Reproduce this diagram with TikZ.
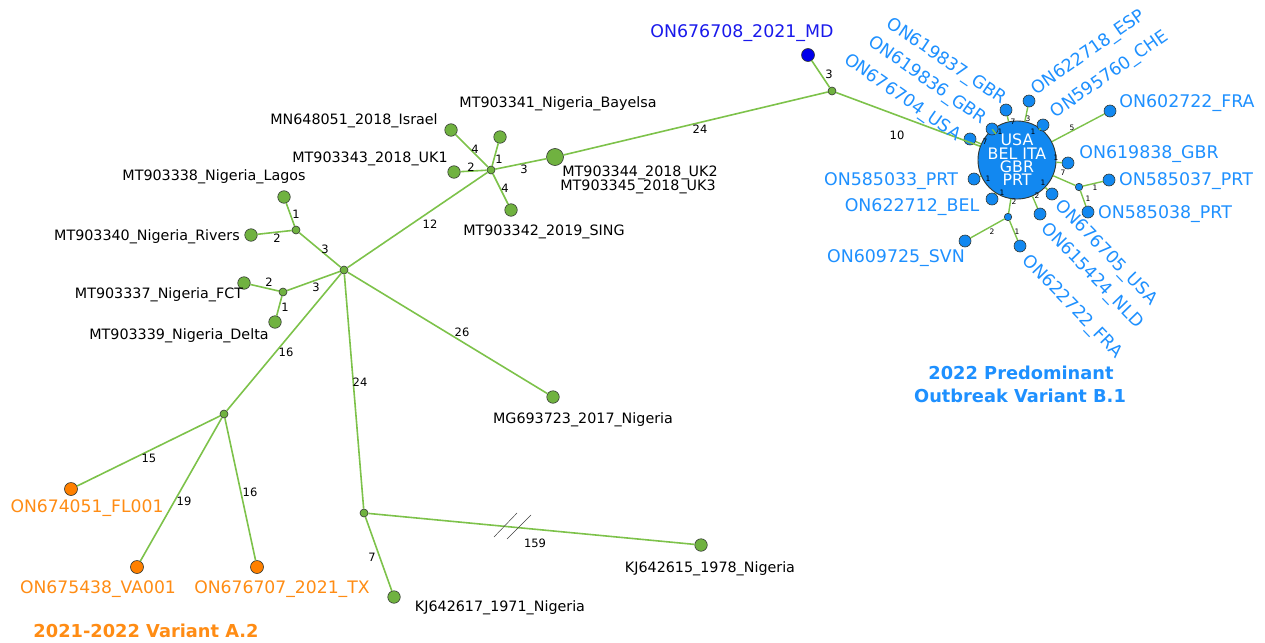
\documentclass[tikz,border=0pt]{standalone}
\usepackage{fontspec}
\setmainfont{DejaVu Sans}
\definecolor{gfill}{RGB}{112,178,64}
\definecolor{gedge}{RGB}{125,194,74}
\definecolor{outl}{RGB}{50,55,50}
\definecolor{bfill}{RGB}{18,136,240}
\definecolor{btext}{RGB}{30,144,255}
\definecolor{ofill}{RGB}{255,128,0}
\definecolor{otext}{RGB}{255,140,20}
\definecolor{mdfill}{RGB}{0,0,235}
\definecolor{mdtext}{RGB}{25,25,235}
\tikzset{
  ndot/.style={circle, draw=outl, line width=0.6pt, inner sep=0pt},
  gleaf/.style={ndot, fill=gfill, minimum size=12.5pt},
  gjn/.style={ndot, fill=gfill, minimum size=8pt},
  bleaf/.style={ndot, fill=bfill, minimum size=12pt},
  bjn/.style={ndot, fill=bfill, minimum size=7.5pt},
  oleaf/.style={ndot, fill=ofill, minimum size=13pt},
  mdleaf/.style={ndot, fill=mdfill, minimum size=13pt},
  hubnode/.style={ndot, fill=bfill, line width=0.9pt, minimum size=61pt, text=white,
    align=center, font=\fontsize{15.8}{13.4}\selectfont},
  edgeline/.style={draw=gedge, line width=1.6pt},
  seqname/.style={inner sep=0pt, font=\fontsize{14.3}{16}\selectfont, text=black},
  bname/.style={inner sep=0pt, font=\fontsize{17.4}{20}\selectfont, text=btext},
  oname/.style={inner sep=0pt, font=\fontsize{17.2}{20}\selectfont, text=otext},
  elab/.style={inner sep=0pt, font=\fontsize{11.5}{12}\selectfont, text=black},
  slab/.style={inner sep=0pt, font=\fontsize{7.5}{8}\selectfont, text=black},
  headline/.style={inner sep=0pt, font=\fontsize{17.8}{22}\bfseries\selectfont},
}
\begin{document}
\begin{tikzpicture}[x=1pt,y=-1pt]
\useasboundingbox (0,0) rectangle (1265,642);

% ---------- ancestral network nodes ----------
\node[gjn] (H) at (344,270) {};
\node[gjn] (J1) at (296,230) {};
\node[gleaf] (lagos) at (284,197) {};
\node[gleaf] (rivers) at (251,235) {};
\node[gjn] (J2) at (283,292) {};
\node[gleaf] (fct) at (244,283) {};
\node[gleaf] (delta) at (275,322) {};
\node[gjn] (J3) at (491,170) {};
\node[gleaf] (israel) at (451,130) {};
\node[gleaf] (bayelsa) at (500,137) {};
\node[gleaf] (uk1) at (454,172) {};
\node[gleaf, minimum size=17pt] (uk2) at (555,157) {};
\node[gleaf] (sing) at (511,210) {};
\node[gjn] (J4) at (832,91) {};
\node[mdleaf] (md) at (808,55) {};
\node[gleaf] (mg) at (553,397) {};
\node[gjn] (J5) at (364,513) {};
\node[gleaf] (kj15) at (701,545) {};
\node[gleaf] (kj17) at (394,597) {};
\node[gjn] (J6) at (224,414) {};
\node[oleaf] (fl) at (71,489) {};
\node[oleaf] (va) at (137,567) {};
\node[oleaf] (tx) at (257,567) {};

% ---------- B.1 cluster nodes ----------
\node[hubnode] (B) at (1017,160) {USA\\BEL ITA\\GBR\\PRT};
\node[bleaf] (s837) at (1006,110) {};
\node[bleaf] (s836) at (992,129) {};
\node[bleaf] (s704) at (970,139) {};
\node[bleaf] (s718) at (1029,101) {};
\node[bleaf] (s760) at (1043,125) {};
\node[bleaf] (s722) at (1110,111) {};
\node[bleaf] (s838) at (1068,163) {};
\node[bleaf] (s033) at (974,179) {};
\node[bleaf] (s712) at (992,199) {};
\node[bjn] (J7) at (1079,187) {};
\node[bleaf] (s037) at (1109,180) {};
\node[bleaf] (s038) at (1088,212) {};
\node[bleaf] (s705) at (1052,194) {};
\node[bleaf] (s424) at (1040,214) {};
\node[bjn] (J8) at (1008,217) {};
\node[bleaf] (s725) at (965,241) {};
\node[bleaf] (s722f) at (1020,246) {};

% ---------- connectors ----------
\path[edgeline] (J1) -- (lagos) (J1) -- (rivers) (J1) -- (H)
  (J2) -- (fct) (J2) -- (delta) (J2) -- (H)
  (H) -- (J3) (J3) -- (israel) (J3) -- (bayelsa) (J3) -- (uk1)
  (J3) -- (uk2) (J3) -- (sing) (uk2) -- (J4) (J4) -- (md) (J4) -- (B)
  (H) -- (mg) (H) -- (J5) (J5) -- (kj15) (J5) -- (kj17)
  (H) -- (J6) (J6) -- (fl) (J6) -- (va) (J6) -- (tx);
\path[edgeline, line width=1.4pt] (B) -- (s837) (B) -- (s836) (B) -- (s704) (B) -- (s718)
  (B) -- (s760) (B) -- (s722) (B) -- (s838) (B) -- (s033) (B) -- (s712)
  (B) -- (J7) (J7) -- (s037) (J7) -- (s038) (B) -- (s705) (B) -- (s424)
  (B) -- (J8) (J8) -- (s725) (J8) -- (s722f);

% break marks on the long branch
\draw[black!75, line width=0.5pt] (494,537) -- (517,513) (507,539) -- (531,515);

% ---------- branch lengths ----------
\node[elab] (l1) at (296,214) {1};
\node[elab] (l2) at (277,238) {2};
\node[elab] (l3) at (325,249) {3};
\node[elab] (l4) at (269,282) {2};
\node[elab] (l5) at (316,287) {3};
\node[elab] (l6) at (285,307) {1};
\node[elab] (l7) at (475,149) {4};
\node[elab] (l8) at (499,159) {1};
\node[elab] (l9) at (471,167) {2};
\node[elab] (l10) at (524,169) {3};
\node[elab] (l11) at (505,188) {4};
\node[elab] (l12) at (430,224) {12};
\node[elab] (l13) at (700,129) {24};
\node[elab] (l14) at (829,74) {3};
\node[elab] (l15) at (897,135) {10};
\node[elab] (l16) at (462,332) {26};
\node[elab] (l17) at (360,382) {24};
\node[elab] (l18) at (286,352) {16};
\node[elab] (l19) at (149,458) {15};
\node[elab] (l20) at (184,501) {19};
\node[elab] (l21) at (250,492) {16};
\node[elab] (l22) at (372,557) {7};
\node[elab] (l23) at (535,543) {159};

\node[slab] (m1) at (1013,122) {7};
\node[slab] (m2) at (1000,132) {1};
\node[slab] (m3) at (985,142) {7};
\node[slab] (m4) at (1028,119) {3};
\node[slab] (m5) at (1033,132) {1};
\node[slab] (m6) at (1072,128) {5};
\node[slab] (m7) at (1056,158) {1};
\node[slab] (m8) at (1063,173) {7};
\node[slab] (m9) at (1095,188) {1};
\node[slab] (m10) at (1088,199) {1};
\node[slab] (m11) at (988,179) {1};
\node[slab] (m12) at (1002,193) {1};
\node[slab] (m13) at (1043,183) {1};
\node[slab] (m14) at (1037,196) {2};
\node[slab] (m15) at (1014,202) {2};
\node[slab] (m16) at (992,232) {2};
\node[slab] (m17) at (1017,232) {1};

% ---------- sequence names ----------
\node[seqname] (t1) at (214,177) {MT903338\_Nigeria\_Lagos};
\node[seqname] (t2) at (147,237) {MT903340\_Nigeria\_Rivers};
\node[seqname] (t3) at (159,295) {MT903337\_Nigeria\_FCT};
\node[seqname] (t4) at (179,336) {MT903339\_Nigeria\_Delta};
\node[seqname] (t5) at (354,121) {MN648051\_2018\_Israel};
\node[seqname] (t6) at (370,159) {MT903343\_2018\_UK1};
\node[seqname] (t7) at (558,104) {MT903341\_Nigeria\_Bayelsa};
\node[seqname] (t8) at (640,173) {MT903344\_2018\_UK2};
\node[seqname] (t9) at (638,187) {MT903345\_2018\_UK3};
\node[seqname] (t10) at (544,232) {MT903342\_2019\_SING};
\node[seqname] (t11) at (583,420) {MG693723\_2017\_Nigeria};
\node[seqname] (t12) at (710,569) {KJ642615\_1978\_Nigeria};
\node[seqname] (t13) at (500,608) {KJ642617\_1971\_Nigeria};

\node[oname] (o1) at (87,508) {ON674051\_FL001};
\node[oname] (o2) at (98,589) {ON675438\_VA001};
\node[oname] (o3) at (282,589) {ON676707\_2021\_TX};
\node[headline, text=otext] (oa) at (146,631) {2021-2022 Variant A.2};

\node[bname, text=mdtext] (d1) at (742,33) {ON676708\_2021\_MD};

\node[bname, rotate=-34] (b1) at (946,62) {ON619837\_GBR};
\node[bname, rotate=-35] (b2) at (927,81) {ON619836\_GBR};
\node[bname, rotate=-35] (b3) at (902,98) {ON676704\_USA};
\node[bname, rotate=35] (b4) at (1089,53) {ON622718\_ESP};
\node[bname, rotate=35] (b5) at (1110,75) {ON595760\_CHE};
\node[bname] (b6) at (1187,103) {ON602722\_FRA};
\node[bname] (b7) at (1149,154) {ON619838\_GBR};
\node[bname] (b8) at (1186,181) {ON585037\_PRT};
\node[bname] (b9) at (1165,214) {ON585038\_PRT};
\node[bname] (b10) at (891,181) {ON585033\_PRT};
\node[bname] (b11) at (912,207) {ON622712\_BEL};
\node[bname] (b12) at (896,258) {ON609725\_SVN};
\node[bname, rotate=-46] (b13) at (1106,253) {ON676705\_USA};
\node[bname, rotate=-46] (b14) at (1092,276) {ON615424\_NLD};
\node[bname, rotate=-46] (b15) at (1072,307) {ON622722\_FRA};
\node[headline, text=btext] (ba) at (1021,373) {2022 Predominant};
\node[headline, text=btext] (bb) at (1020,396) {Outbreak Variant B.1};
\end{tikzpicture}
\end{document}
